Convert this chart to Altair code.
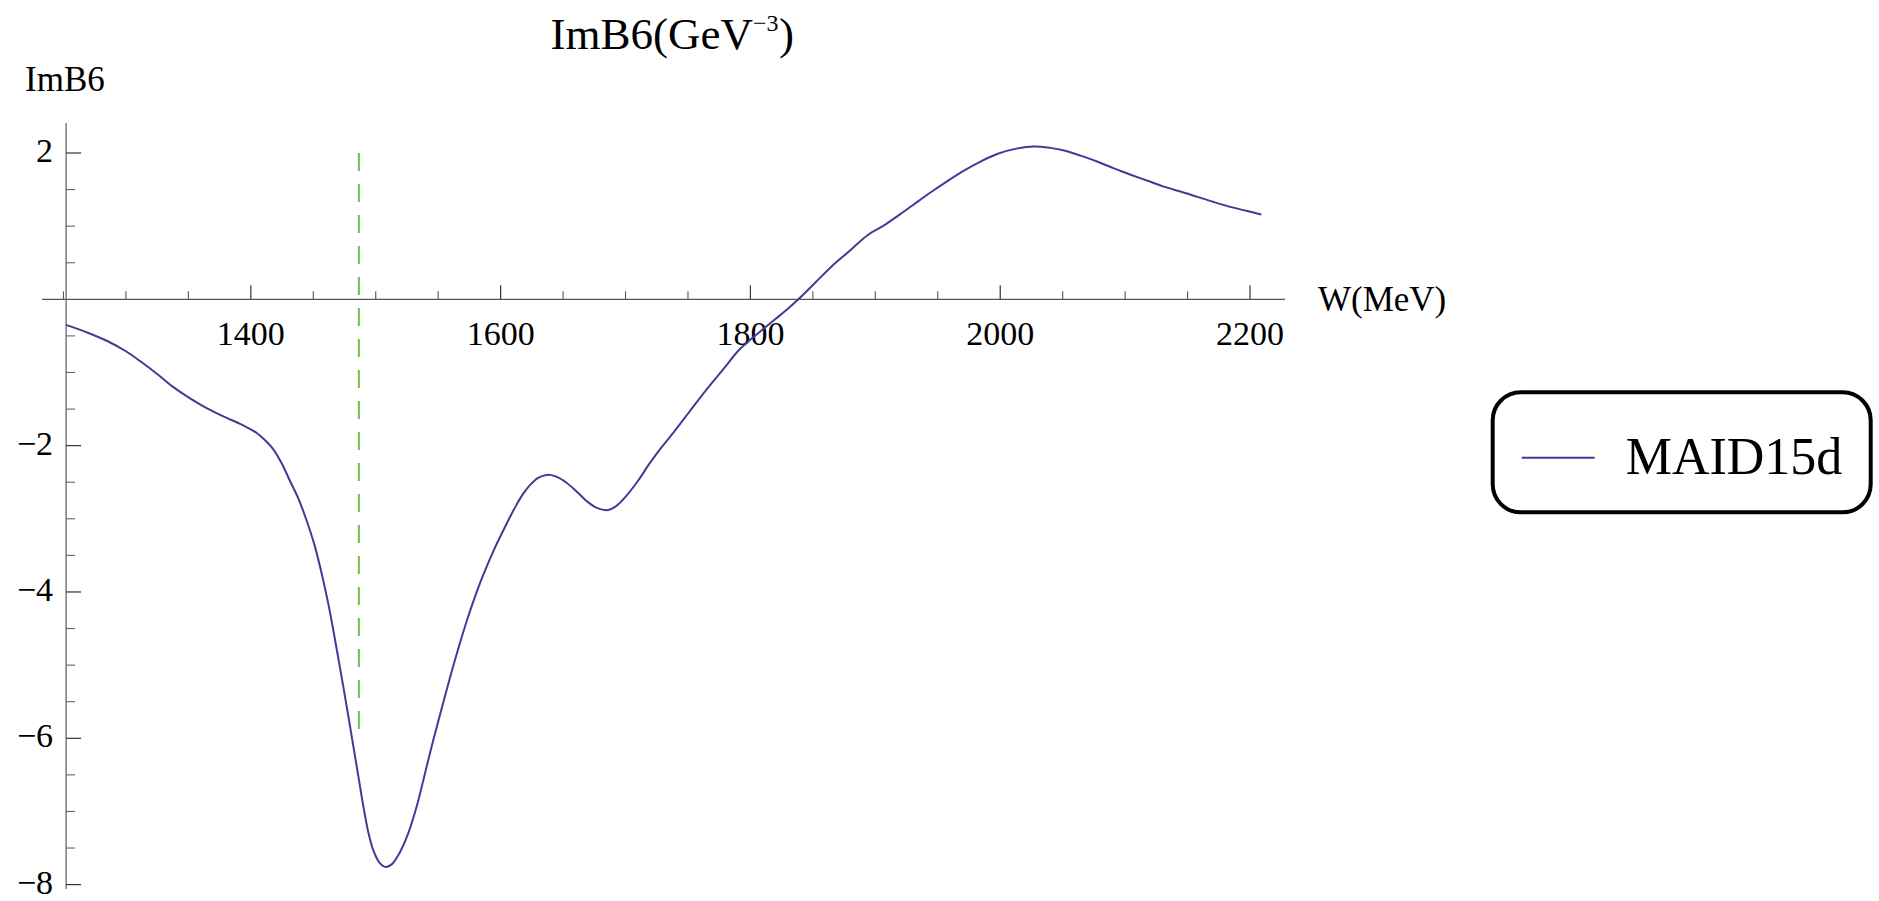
import altair as alt
import pandas as pd

# ImB6 amplitude (GeV^-3) of the MAID15d solution versus W (MeV)
w_mev = [1252, 1270, 1285, 1300, 1311, 1325, 1338, 1352, 1365, 1378, 1391, 1398,
         1405, 1411, 1418, 1425, 1431, 1438, 1445, 1451, 1457, 1462, 1466, 1470,
         1474, 1478, 1482, 1486, 1490, 1494, 1498, 1503, 1508, 1513, 1519, 1526,
         1533, 1540, 1546, 1553, 1559, 1566, 1573, 1580, 1586, 1595, 1605, 1612,
         1618, 1624, 1630, 1637, 1644, 1653, 1661, 1669, 1677, 1686, 1693, 1700,
         1710, 1719, 1728, 1738, 1751, 1764, 1778, 1791, 1800, 1810, 1820, 1830,
         1839, 1852, 1865, 1880, 1894, 1906, 1918, 1931, 1945, 1958, 1972, 1985,
         1998, 2013, 2027, 2040, 2052, 2065, 2078, 2091, 2105, 2118, 2131, 2145,
         2158, 2171, 2185, 2197, 2209]
im_b6 = [-0.35, -0.46, -0.57, -0.71, -0.84, -1.02, -1.20, -1.36, -1.49, -1.60, -1.70, -1.76,
         -1.83, -1.92, -2.05, -2.25, -2.47, -2.72, -3.04, -3.36, -3.77, -4.16, -4.52, -4.90,
         -5.29, -5.69, -6.10, -6.51, -6.92, -7.28, -7.53, -7.70, -7.76, -7.72, -7.57, -7.30,
         -6.92, -6.44, -6.03, -5.58, -5.20, -4.78, -4.39, -4.04, -3.77, -3.41, -3.06, -2.83,
         -2.66, -2.53, -2.44, -2.40, -2.42, -2.51, -2.63, -2.76, -2.85, -2.88, -2.82, -2.70,
         -2.48, -2.25, -2.04, -1.83, -1.54, -1.25, -0.96, -0.69, -0.55, -0.41, -0.27, -0.13,
         0.01, 0.23, 0.45, 0.67, 0.88, 1.00, 1.14, 1.30, 1.47, 1.62, 1.77, 1.89,
         1.99, 2.06, 2.09, 2.07, 2.03, 1.96, 1.88, 1.79, 1.70, 1.62, 1.54, 1.47,
         1.40, 1.33, 1.26, 1.21, 1.16]
series_name = "MAID15d"

# eta-N threshold marker
eta_w = [1486.5]
eta_top = [2]
eta_bottom = [-6]

# axis ticks and labels
x_major = [1400, 1600, 1800, 2000, 2200]
x_major_labels = ["1400", "1600", "1800", "2000", "2200"]
x_minor = [1250, 1300, 1350, 1450, 1500, 1550, 1650, 1700, 1750,
           1850, 1900, 1950, 2050, 2100, 2150]
y_major = [-8, -6, -4, -2, 2]
y_major_labels = ["\u22128", "\u22126", "\u22124", "\u22122", "2"]
y_minor = [-7.5, -7, -6.5, -5.5, -5, -4.5, -3.5, -3, -2.5,
           -1.5, -1, -0.5, 0.5, 1, 1.5]

x_domain = [1232.8, 2228]
y_domain = [-8.06, 2.41]
y_axis_at = 1252.1   # the vertical axis sits at the first sampled W

PLOT_W, PLOT_H = 1243, 766
SERIF = "Liberation Serif"
BLUE = "#3d3d99"
GREEN = "#6cc24a"

xs = alt.Scale(domain=x_domain, nice=False, zero=False)
ys = alt.Scale(domain=y_domain, nice=False, zero=False)

curve_df = pd.DataFrame({"W": w_mev, "ImB6": im_b6, "model": series_name})
eta_df = pd.DataFrame({"W": eta_w, "top": eta_top, "bottom": eta_bottom})
xmaj_df = pd.DataFrame({"t": x_major, "label": x_major_labels, "base": 0.0})
xmin_df = pd.DataFrame({"t": x_minor, "base": 0.0})
ymaj_df = pd.DataFrame({"t": y_major, "label": y_major_labels, "base": y_axis_at})
ymin_df = pd.DataFrame({"t": y_minor, "base": y_axis_at})
hline_df = pd.DataFrame({"x0": [x_domain[0]], "x1": [x_domain[1]], "y0": [0.0]})
vline_df = pd.DataFrame({"x0": [y_axis_at], "y0": [y_domain[0]], "y1": [y_domain[1]]})
xtitle_df = pd.DataFrame({"y0": [0.0], "label": ["W(MeV)"]})
text_df = pd.DataFrame({"k": [0]})

curve = alt.Chart(curve_df).mark_line(strokeWidth=2, interpolate="catmull-rom").encode(
    x=alt.X("W:Q", scale=xs, axis=None),
    y=alt.Y("ImB6:Q", scale=ys, axis=None),
    color=alt.Color(
        "model:N",
        scale=alt.Scale(range=[BLUE]),
        legend=alt.Legend(
            title=None, orient="none", legendX=1450.7, legendY=269.3,
            symbolType="stroke", symbolSize=5329, symbolStrokeWidth=2,
            labelFont=SERIF, labelFontSize=52, labelColor="black", labelOffset=30,
            labelLimit=0, padding=28, cornerRadius=28,
            strokeColor="black", fillColor="white",
        ),
    ),
)

eta = alt.Chart(eta_df).mark_rule(strokeDash=[18, 13], color=GREEN, strokeWidth=2).encode(
    x=alt.X("W:Q", scale=xs, axis=None),
    y=alt.Y("top:Q", scale=ys, axis=None),
    y2="bottom:Q",
)

x_axis_line = alt.Chart(hline_df).mark_rule(color="#555555", strokeWidth=1.3).encode(
    x=alt.X("x0:Q", scale=xs, axis=None), x2="x1:Q",
    y=alt.Y("y0:Q", scale=ys, axis=None),
)
y_axis_line = alt.Chart(vline_df).mark_rule(color="#666666", strokeWidth=1.3).encode(
    x=alt.X("x0:Q", scale=xs, axis=None),
    y=alt.Y("y0:Q", scale=ys, axis=None), y2="y1:Q",
)

x_major_ticks = alt.Chart(xmaj_df).mark_rule(color="#333333", strokeWidth=1.2, y2Offset=-14).encode(
    x=alt.X("t:Q", scale=xs, axis=None), y=alt.Y("base:Q", scale=ys, axis=None), y2="base:Q"
)
x_minor_ticks = alt.Chart(xmin_df).mark_rule(color="#555555", strokeWidth=1.1, y2Offset=-8).encode(
    x=alt.X("t:Q", scale=xs, axis=None), y=alt.Y("base:Q", scale=ys, axis=None), y2="base:Q"
)
y_major_ticks = alt.Chart(ymaj_df).mark_rule(color="#333333", strokeWidth=1.2, x2Offset=15).encode(
    y=alt.Y("t:Q", scale=ys, axis=None), x=alt.X("base:Q", scale=xs, axis=None), x2="base:Q"
)
y_minor_ticks = alt.Chart(ymin_df).mark_rule(color="#666666", strokeWidth=1.1, x2Offset=9).encode(
    y=alt.Y("t:Q", scale=ys, axis=None), x=alt.X("base:Q", scale=xs, axis=None), x2="base:Q"
)

x_labels = alt.Chart(xmaj_df).mark_text(
    font=SERIF, fontSize=34, align="center", baseline="alphabetic", dy=46, color="black"
).encode(x=alt.X("t:Q", scale=xs, axis=None), y=alt.Y("base:Q", scale=ys, axis=None), text="label:N")

y_labels = alt.Chart(ymaj_df).mark_text(
    font=SERIF, fontSize=34, align="right", baseline="alphabetic", dx=-13, dy=9, color="black"
).encode(y=alt.Y("t:Q", scale=ys, axis=None), x=alt.X("base:Q", scale=xs, axis=None), text="label:N")

# axis titles and plot title
x_title = alt.Chart(xtitle_df).mark_text(
    font=SERIF, fontSize=35, align="left", baseline="alphabetic", dy=12, color="black"
).encode(x=alt.value(1276), y=alt.Y("y0:Q", scale=ys, axis=None), text="label:N")

y_title = alt.Chart(text_df).mark_text(
    font=SERIF, fontSize=35, align="left", baseline="alphabetic", color="black", text="ImB6"
).encode(x=alt.value(-17), y=alt.value(-32))

title_main = alt.Chart(text_df).mark_text(
    font=SERIF, fontSize=45, align="right", baseline="alphabetic", color="black", text="ImB6(GeV"
).encode(x=alt.value(711), y=alt.value(-74))
title_sup = alt.Chart(text_df).mark_text(
    font=SERIF, fontSize=24, align="left", baseline="alphabetic", color="black", text="\u22123"
).encode(x=alt.value(711), y=alt.value(-92))
title_close = alt.Chart(text_df).mark_text(
    font=SERIF, fontSize=45, align="left", baseline="alphabetic", color="black", text=")"
).encode(x=alt.value(737), y=alt.value(-74))

chart = alt.layer(
    x_axis_line, y_axis_line,
    x_minor_ticks, x_major_ticks, y_minor_ticks, y_major_ticks,
    x_labels, y_labels, x_title, y_title,
    title_main, title_sup, title_close,
    eta, curve,
).properties(
    width=PLOT_W, height=PLOT_H,
    autosize=alt.AutoSizeParams(type="none"),
    padding={"left": 42, "top": 123, "right": 594, "bottom": 12},
    background="white",
).configure_view(stroke=None).configure_legend(strokeWidth=4)

chart.save("out.html", embed_options={"renderer": "svg", "actions": False})
